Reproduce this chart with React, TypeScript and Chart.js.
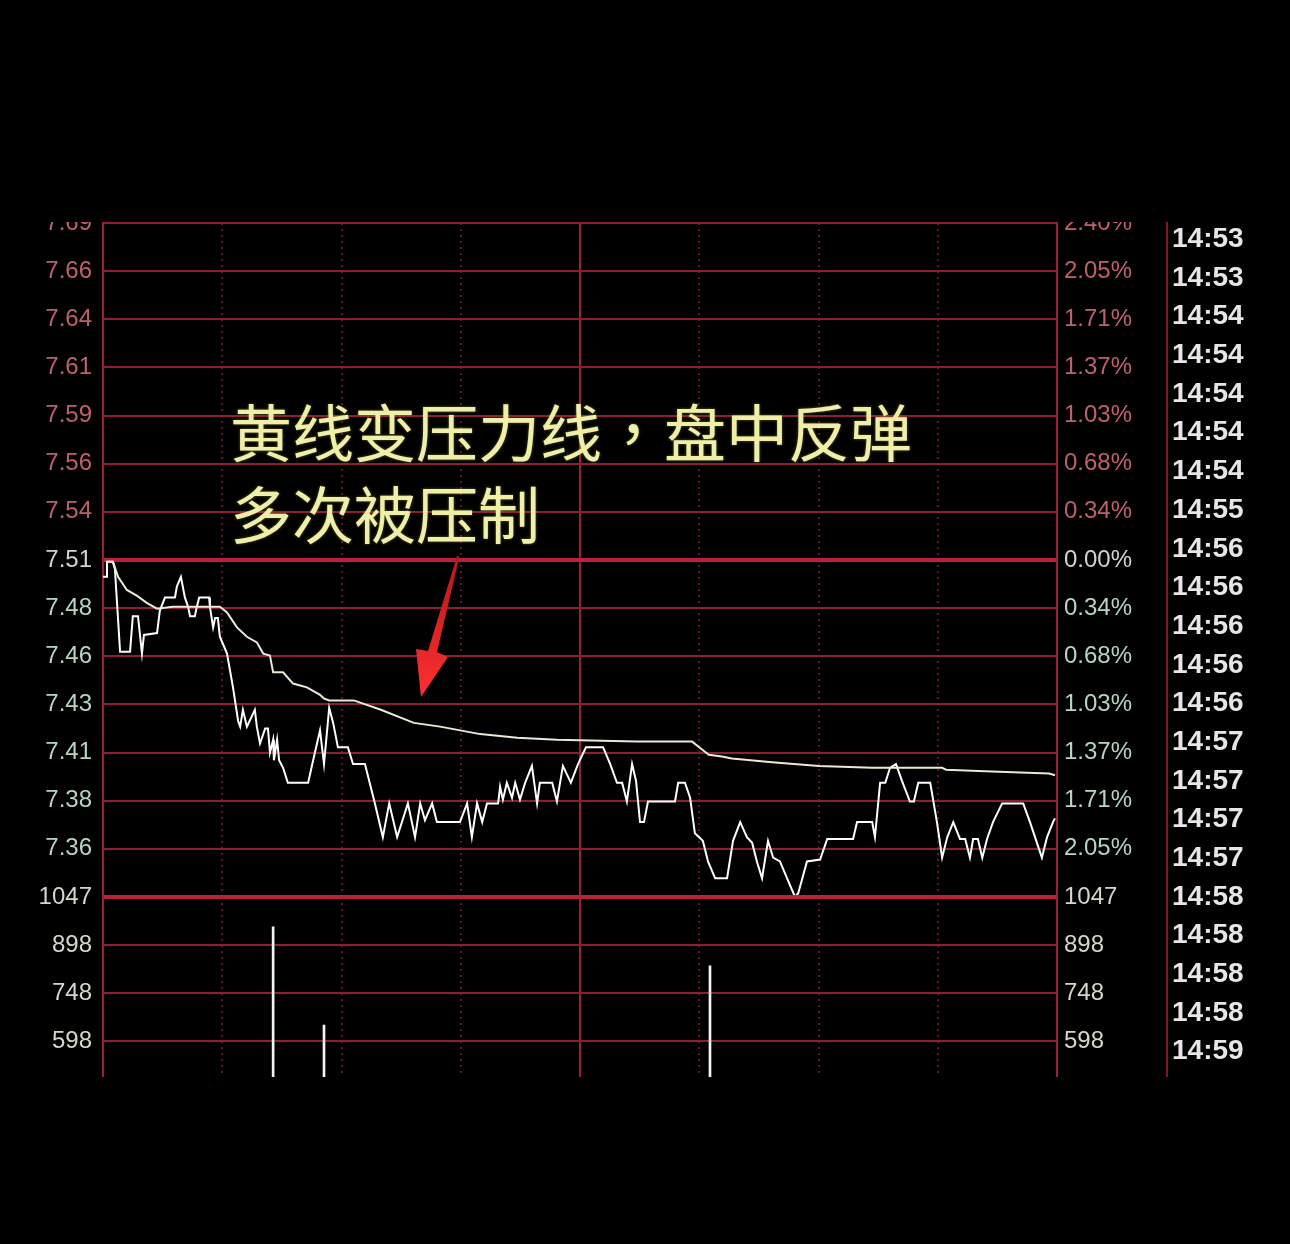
import React, { useEffect, useRef } from 'react';
import { Chart, registerables } from 'chart.js';
Chart.register(...registerables);

// ---- axis settings ----
const BASE = 7.51;
const PRICE_MAX = 7.69;
const PRICE_STEP = (PRICE_MAX - BASE) / 7;
const PRICE_MIN = BASE - 7 * PRICE_STEP;
const VOL_MAX = 1047;
const VOL_STEP = 149.6;
const VOL_MIN = VOL_MAX - 3.74 * VOL_STEP;

// ---- tick labels (top to bottom) ----
const priceTickLabels = ['7.69', '7.66', '7.64', '7.61', '7.59', '7.56', '7.54', '7.51', '7.48', '7.46', '7.43', '7.41', '7.38', '7.36', ''];
const pctTickLabels = ['2.40%', '2.05%', '1.71%', '1.37%', '1.03%', '0.68%', '0.34%', '0.00%', '0.34%', '0.68%', '1.03%', '1.37%', '1.71%', '2.05%', ''];
const volTickLabels = ['1047', '898', '748', '598'];
const timeLabels = ['14:53', '14:53', '14:54', '14:54', '14:54', '14:54', '14:54', '14:55', '14:56', '14:56', '14:56', '14:56', '14:56', '14:57', '14:57', '14:57', '14:57', '14:58', '14:58', '14:58', '14:58', '14:59', '14:59'];

// ---- price line (minutes from open, price) ----
const priceMinutes = [0, 0.8, 1.0, 2.5, 3.0, 4.3, 6.8, 7.5, 8.8, 9.8, 10.3, 13.6, 14.3, 15.6, 18.1, 18.6, 19.6, 20.6, 21.4, 21.9, 23.1, 23.6, 24.2, 26.7, 26.9, 27.7, 28.2, 28.9, 29.4, 31.2, 32.7, 34.0, 34.5, 35.2, 36.2, 38.2, 38.7, 39.5, 40.8, 41.5, 42.0, 42.8, 43.0, 43.8, 44.3, 45.3, 46.5, 51.6, 53.3, 54.6, 55.6, 56.9, 57.9, 59.1, 61.6, 62.9, 65.9, 68.4, 70.4, 72.0, 74.0, 76.7, 78.5, 79.8, 81.0, 82.8, 84.0, 89.8, 91.6, 92.8, 94.1, 95.4, 96.6, 99.4, 99.9, 100.6, 101.6, 102.9, 103.7, 104.9, 106.2, 107.9, 109.2, 109.9, 113.0, 114.2, 115.7, 117.7, 119.5, 121.5, 125.8, 127.6, 129.3, 130.6, 131.8, 133.1, 134.1, 135.1, 136.1, 137.1, 143.9, 144.7, 146.4, 147.7, 148.9, 150.9, 152.2, 154.0, 157.0, 158.5, 160.3, 162.0, 163.3, 164.5, 165.8, 167.3, 168.6, 170.3, 172.1, 174.1, 174.9, 177.1, 180.4, 182.2, 188.7, 189.7, 193.5, 194.2, 195.5, 196.8, 198.0, 199.5, 201.0, 203.0, 204.0, 205.1, 208.1, 209.8, 211.1, 212.4, 213.9, 215.6, 216.9, 218.1, 218.9, 220.1, 221.2, 222.4, 223.9, 226.2, 231.5, 233.2, 236.2, 237.5, 239.0, 239.5];
const priceValues = [7.501, 7.501, 7.509, 7.509, 7.505, 7.461, 7.461, 7.480, 7.480, 7.460, 7.470, 7.471, 7.483, 7.490, 7.490, 7.496, 7.501, 7.490, 7.485, 7.480, 7.480, 7.485, 7.490, 7.490, 7.485, 7.474, 7.479, 7.479, 7.469, 7.460, 7.442, 7.424, 7.421, 7.430, 7.421, 7.430, 7.421, 7.412, 7.420, 7.420, 7.407, 7.414, 7.403, 7.414, 7.403, 7.399, 7.391, 7.391, 7.407, 7.419, 7.401, 7.431, 7.423, 7.410, 7.410, 7.401, 7.401, 7.380, 7.362, 7.380, 7.362, 7.380, 7.362, 7.380, 7.371, 7.380, 7.370, 7.370, 7.380, 7.362, 7.380, 7.370, 7.380, 7.380, 7.389, 7.382, 7.391, 7.383, 7.391, 7.382, 7.391, 7.400, 7.380, 7.391, 7.391, 7.381, 7.400, 7.391, 7.401, 7.410, 7.410, 7.401, 7.391, 7.391, 7.381, 7.401, 7.392, 7.370, 7.370, 7.381, 7.381, 7.391, 7.391, 7.383, 7.364, 7.360, 7.349, 7.340, 7.340, 7.360, 7.370, 7.362, 7.359, 7.349, 7.340, 7.360, 7.351, 7.349, 7.340, 7.330, 7.332, 7.349, 7.350, 7.361, 7.361, 7.370, 7.370, 7.362, 7.391, 7.391, 7.399, 7.401, 7.392, 7.381, 7.381, 7.391, 7.391, 7.370, 7.351, 7.362, 7.370, 7.361, 7.361, 7.351, 7.361, 7.361, 7.351, 7.361, 7.370, 7.380, 7.380, 7.370, 7.351, 7.362, 7.370, 7.372];

// ---- average price line ----
const avgMinutes = [1.0, 2.5, 3.8, 6.0, 8.5, 11.1, 13.6, 17.6, 29.4, 31.2, 33.7, 36.2, 38.7, 40.3, 42.0, 42.8, 45.3, 47.8, 49.6, 51.3, 54.6, 55.6, 56.9, 63.1, 69.9, 78.2, 84.8, 94.9, 104.2, 114.2, 134.1, 148.2, 150.0, 152.4, 155.7, 158.2, 168.3, 180.1, 193.5, 211.1, 212.1, 223.6, 238.0, 239.5];
const avgValues = [7.509, 7.509, 7.501, 7.494, 7.491, 7.487, 7.484, 7.485, 7.485, 7.482, 7.474, 7.469, 7.466, 7.460, 7.459, 7.450, 7.450, 7.444, 7.443, 7.442, 7.438, 7.436, 7.435, 7.435, 7.430, 7.423, 7.421, 7.417, 7.415, 7.414, 7.413, 7.413, 7.410, 7.406, 7.405, 7.404, 7.402, 7.400, 7.399, 7.399, 7.398, 7.397, 7.396, 7.395];

// ---- volume (only the bars that reach the visible part) ----
const volMinutes = [42.8, 55.6, 152.7];
const volValues = [954, 649, 833];

const GRID = '#8e1e32';
const GRID_MAIN = '#bb2239';
const DOT = '#5e1822';
const LABEL_FONT = { family: 'Liberation Sans', size: 24 };

const noPad = (s: any) => { s.paddingTop = 0; s.paddingBottom = 0; s.paddingLeft = 0; s.paddingRight = 0; };

function xScales() {
  return {
    x: {
      type: 'linear', min: 0, max: 240, display: true, offset: false,
      afterBuildTicks: (s: any) => { s.ticks = [30, 60, 90, 150, 180, 210].map(v => ({ value: v })); },
      afterFit: (s: any) => { s.height = 0; noPad(s); },
      ticks: { display: false },
      grid: { color: DOT, lineWidth: 2, drawTicks: false, offset: false },
      border: { display: false, dash: [2, 4] },
    },
    x2: {
      type: 'linear', axis: 'x', position: 'bottom', min: 0, max: 240, display: true, offset: false,
      afterBuildTicks: (s: any) => { s.ticks = [{ value: 120 }]; },
      afterFit: (s: any) => { s.height = 0; noPad(s); },
      ticks: { display: false },
      grid: { color: '#9a2035', lineWidth: 2, drawTicks: false, offset: false },
      border: { display: false },
    },
  };
}

function priceLabelColor(i: number) {
  if (i < 7) return '#c0606c';
  if (i === 7) return '#d2d2d2';
  return '#b6d6c2';
}

export default function App() {
  const c1 = useRef<HTMLCanvasElement>(null);
  const c2 = useRef<HTMLCanvasElement>(null);

  useEffect(() => {
    document.body.style.background = '#000';
    const priceChart = new Chart(c1.current as HTMLCanvasElement, {
      type: 'line',
      data: {
        datasets: [
          {
            label: 'avg',
            data: avgMinutes.map((m, i) => ({ x: m, y: avgValues[i] })),
            borderColor: '#eee8d6', borderWidth: 2, pointRadius: 0, tension: 0,
          },
          {
            label: 'price',
            data: priceMinutes.map((m, i) => ({ x: m, y: priceValues[i] })),
            borderColor: '#ffffff', borderWidth: 2, pointRadius: 0, tension: 0,
          },
        ],
      },
      options: {
        animation: false, responsive: false, events: [],
        layout: { padding: { top: 1, bottom: 12, left: 0, right: 0 } },
        plugins: { legend: { display: false }, tooltip: { enabled: false } },
        scales: {
          ...xScales(),
          y: {
            position: 'left', min: PRICE_MIN, max: PRICE_MAX,
            afterBuildTicks: (s: any) => { s.ticks = priceTickLabels.map((_, i) => ({ value: PRICE_MAX - i * PRICE_STEP })); },
            afterFit: (s: any) => { s.width = 103; noPad(s); },
            ticks: {
              autoSkip: false, padding: 11, font: LABEL_FONT,
              color: (ctx: any) => priceLabelColor(ctx.index),
              callback: (_v: any, i: number) => priceTickLabels[i],
            },
            grid: {
              drawTicks: false,
              color: (ctx: any) => (ctx.index === 14 ? 'rgba(0,0,0,0)' : ctx.index === 7 ? GRID_MAIN : GRID),
              lineWidth: (ctx: any) => (ctx.index === 7 ? 4 : 2),
            },
            border: { display: true, color: '#9a2035', width: 2 },
          },
          yR: {
            position: 'right', min: PRICE_MIN, max: PRICE_MAX,
            afterBuildTicks: (s: any) => { s.ticks = pctTickLabels.map((_, i) => ({ value: PRICE_MAX - i * PRICE_STEP })); },
            afterFit: (s: any) => { s.width = 113; noPad(s); },
            ticks: {
              autoSkip: false, padding: 7, font: LABEL_FONT,
              color: (ctx: any) => priceLabelColor(ctx.index),
              callback: (_v: any, i: number) => pctTickLabels[i],
            },
            grid: { drawOnChartArea: false, drawTicks: false },
            border: { display: true, color: '#9a2035', width: 2 },
          },
        },
      } as any,
    });

    const volChart = new Chart(c2.current as HTMLCanvasElement, {
      type: 'bar',
      data: {
        datasets: [
          {
            label: 'volume',
            data: volMinutes.map((m, i) => ({ x: m, y: volValues[i] })),
            backgroundColor: '#f4f4f4', barThickness: 2,
          },
        ],
      },
      options: {
        animation: false, responsive: false, events: [],
        layout: { padding: { top: 12, bottom: 0, left: 0, right: 0 } },
        plugins: { legend: { display: false }, tooltip: { enabled: false } },
        scales: {
          ...xScales(),
          y: {
            position: 'left', min: VOL_MIN, max: VOL_MAX,
            afterBuildTicks: (s: any) => { s.ticks = volTickLabels.map((_, i) => ({ value: VOL_MAX - i * VOL_STEP })); },
            afterFit: (s: any) => { s.width = 103; noPad(s); },
            ticks: {
              autoSkip: false, padding: 11, font: LABEL_FONT, color: '#d6d6cc',
              callback: (_v: any, i: number) => volTickLabels[i],
            },
            grid: {
              drawTicks: false,
              color: (ctx: any) => (ctx.index === 0 ? GRID_MAIN : GRID),
              lineWidth: (ctx: any) => (ctx.index === 0 ? 4 : 2),
            },
            border: { display: true, color: '#9a2035', width: 2 },
          },
          yR: {
            position: 'right', min: VOL_MIN, max: VOL_MAX,
            afterBuildTicks: (s: any) => { s.ticks = volTickLabels.map((_, i) => ({ value: VOL_MAX - i * VOL_STEP })); },
            afterFit: (s: any) => { s.width = 113; noPad(s); },
            ticks: {
              autoSkip: false, padding: 7, font: LABEL_FONT, color: '#d6d6cc',
              callback: (_v: any, i: number) => volTickLabels[i],
            },
            grid: { drawOnChartArea: false, drawTicks: false },
            border: { display: true, color: '#9a2035', width: 2 },
          },
        },
      } as any,
    });

    return () => {
      priceChart.destroy();
      volChart.destroy();
    };
  }, []);

  // arrow geometry (annotation decoration)
  const arrow = '457,556 459.5,556.5 437,652 448,657 421,697 416,649 428,651';
  const textStyle: React.CSSProperties = {
    position: 'absolute', left: 230, fontFamily: '"Noto Sans CJK SC"', fontSize: 62, lineHeight: '62px',
    color: '#f0efaa', textShadow: '0 0 3px rgba(170,170,50,0.6)', whiteSpace: 'nowrap',
  };

  return (
    <div style={{ position: 'fixed', left: 0, top: 0, width: 1290, height: 1244, background: '#000', overflow: 'hidden' }}>
      <canvas ref={c1} width={1170} height={687} style={{ position: 'absolute', left: 0, top: 222, width: 1170, height: 687 }} />
      <canvas ref={c2} width={1170} height={192} style={{ position: 'absolute', left: 0, top: 885, width: 1170, height: 192 }} />

      <div style={{ position: 'absolute', left: 1166, top: 222, width: 124, height: 855, overflow: 'hidden', borderLeft: '2px solid #7a1a2a' }}>
        <div style={{ marginTop: -3, paddingLeft: 4 }}>
          {timeLabels.map((t, i) => (
            <div key={i} style={{ height: 38.7, lineHeight: '38.7px', fontFamily: 'Liberation Sans', fontWeight: 'bold', fontSize: 28, color: '#e6e6e6' }}>{t}</div>
          ))}
        </div>
      </div>

      <div style={{ ...textStyle, top: 399 }}>
        黄线变压力线<span style={{ fontFamily: '"Noto Sans CJK TC"' }}>，</span>盘中反弹
      </div>
      <div style={{ ...textStyle, top: 481 }}>多次被压制</div>

      <svg width={1290} height={1244} style={{ position: 'absolute', left: 0, top: 0, pointerEvents: 'none' }}>
        <defs>
          <linearGradient id="ag" x1="0" y1="0" x2="0" y2="1">
            <stop offset="0" stopColor="#b01818" />
            <stop offset="1" stopColor="#ff3030" />
          </linearGradient>
        </defs>
        <polygon points={arrow} fill="url(#ag)" />
      </svg>
    </div>
  );
}
